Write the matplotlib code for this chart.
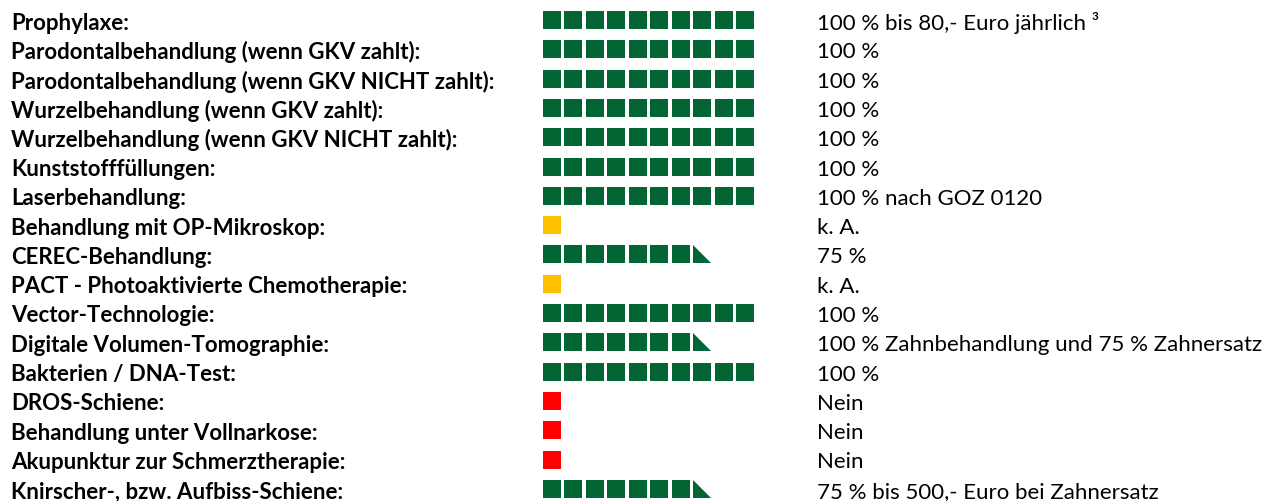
import matplotlib
matplotlib.use("Agg")
import matplotlib.pyplot as plt
from matplotlib.patches import Rectangle, Polygon

labels = [
    "Prophylaxe:",
    "Parodontalbehandlung (wenn GKV zahlt):",
    "Parodontalbehandlung (wenn GKV NICHT zahlt):",
    "Wurzelbehandlung (wenn GKV zahlt):",
    "Wurzelbehandlung (wenn GKV NICHT zahlt):",
    "Kunststofffüllungen:",
    "Laserbehandlung:",
    "Behandlung mit OP-Mikroskop:",
    "CEREC-Behandlung:",
    "PACT - Photoaktivierte Chemotherapie:",
    "Vector-Technologie:",
    "Digitale Volumen-Tomographie:",
    "Bakterien / DNA-Test:",
    "DROS-Schiene:",
    "Behandlung unter Vollnarkose:",
    "Akupunktur zur Schmerztherapie:",
    "Knirscher-, bzw. Aufbiss-Schiene:",
]
percent = [100, 100, 100, 100, 100, 100, 100, None, 75, None, 100, 75, 100, None, None, None, 75]
status = ["ok", "ok", "ok", "ok", "ok", "ok", "ok", "na", "ok", "na", "ok", "ok", "ok", "no", "no", "no", "ok"]
value_texts = [
    "100 % bis 80,- Euro jährlich ³",
    "100 %",
    "100 %",
    "100 %",
    "100 %",
    "100 %",
    "100 % nach GOZ 0120",
    "k. A.",
    "75 %",
    "k. A.",
    "100 %",
    "100 % Zahnbehandlung und 75 % Zahnersatz",
    "100 %",
    "Nein",
    "Nein",
    "Nein",
    "75 % bis 500,- Euro bei Zahnersatz",
]

colors = {"ok": "#036534", "na": "#FFC000", "no": "#FF0000"}

W, H = 1274, 502
fig = plt.figure(figsize=(W / 100, H / 100), dpi=100)
ax = fig.add_axes([0, 0, 1, 1])

# layout (pixels)
x0 = 542.7        # first square left edge
pitch_x = 21.48   # horizontal pitch of squares
sq = 18.0         # square size
y_first = 21.0    # first row centre
pitch_y = 29.3    # row pitch
label_x = 11.0
value_x = 817.0

ax.set_xlim(-x0 / pitch_x, (W - x0) / pitch_x)
ax.set_ylim((H - y_first) / pitch_y, -y_first / pitch_y)
ax.axis("off")

w = sq / pitch_x
h = sq / pitch_y

for row, (pct, st) in enumerate(zip(percent, status)):
    c = colors[st]
    if pct is None:
        n_full, half = 1, False
    else:
        units = pct / 10.0
        n_full = int(units)
        half = (units - n_full) > 0
    for i in range(n_full):
        ax.add_patch(Rectangle((i, row - h / 2), w, h, facecolor=c, edgecolor="none"))
    if half:
        xl = n_full
        ax.add_patch(Polygon([(xl, row - h / 2), (xl, row + h / 2), (xl + w, row + h / 2)],
                             closed=True, facecolor=c, edgecolor="none"))

fs = 16
tr = ax.get_yaxis_transform()
for row, (lab, val) in enumerate(zip(labels, value_texts)):
    ax.text(label_x / W, row, lab, transform=tr, ha="left", va="center_baseline",
            fontsize=fs, fontweight="bold", family="Lato", color="#000000")
    ax.text(value_x / W, row, val, transform=tr, ha="left", va="center_baseline",
            fontsize=fs, family="Lato", color="#000000")

fig.savefig("out.png", dpi=100, facecolor="white")
